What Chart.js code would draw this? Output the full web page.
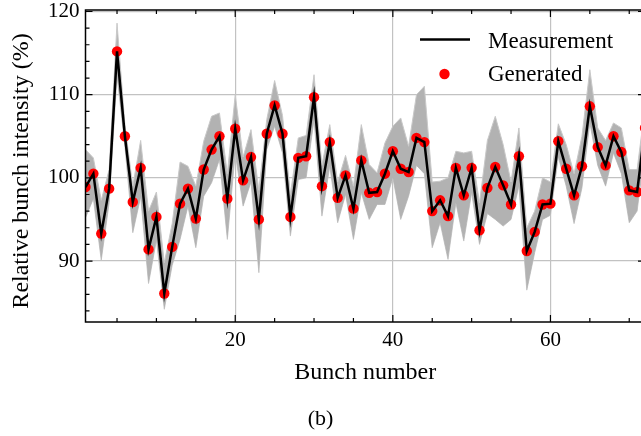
<!DOCTYPE html>
<html>
<head>
<meta charset="utf-8">
<script src="https://cdn.jsdelivr.net/npm/chart.js@4.4.1/dist/chart.umd.min.js"></script>
<style>
  html, body { margin: 0; padding: 0; background: #fff; overflow: hidden; }
  canvas { display: block; }
</style>
</head>
<body>
<canvas id="chart" width="660" height="436"></canvas>
<script>
// bunch index (x)
const bunches = [1, 2, 3, 4, 5, 6, 7, 8, 9, 10, 11, 12, 13, 14, 15, 16, 17, 18, 19, 20,
  21, 22, 23, 24, 25, 26, 27, 28, 29, 30, 31, 32, 33, 34, 35, 36, 37, 38, 39, 40,
  41, 42, 43, 44, 45, 46, 47, 48, 49, 50, 51, 52, 53, 54, 55, 56, 57, 58, 59, 60,
  61, 62, 63, 64, 65, 66, 67, 68, 69, 70, 71, 72];

// relative bunch intensity (%)
const measurement = [98.9, 100.5, 93.3, 98.7, 115.2, 105.0, 97.1, 101.2, 91.4, 95.3,
  86.1, 91.7, 96.9, 98.7, 95.1, 101.0, 103.4, 105.0, 97.5, 105.9,
  99.7, 102.5, 95.0, 105.3, 108.7, 105.3, 95.3, 102.4, 102.6, 109.7,
  99.0, 104.3, 97.6, 100.3, 96.3, 102.1, 98.2, 98.3, 100.5, 103.2,
  101.1, 100.7, 104.8, 104.3, 96.0, 97.3, 95.4, 101.2, 97.9, 101.2,
  93.7, 98.8, 101.3, 99.1, 96.8, 102.6, 91.2, 93.5, 96.8, 96.9,
  104.4, 101.1, 97.9, 101.4, 108.6, 103.7, 101.5, 105.0, 103.1, 98.5,
  98.3, 106.0];

const generated = [98.9, 100.5, 93.3, 98.7, 115.2, 105.0, 97.1, 101.2, 91.4, 95.3,
  86.1, 91.7, 96.9, 98.7, 95.1, 101.0, 103.4, 105.0, 97.5, 105.9,
  99.7, 102.5, 95.0, 105.3, 108.7, 105.3, 95.3, 102.4, 102.6, 109.7,
  99.0, 104.3, 97.6, 100.3, 96.3, 102.1, 98.2, 98.3, 100.5, 103.2,
  101.1, 100.7, 104.8, 104.3, 96.0, 97.3, 95.4, 101.2, 97.9, 101.2,
  93.7, 98.8, 101.3, 99.1, 96.8, 102.6, 91.2, 93.5, 96.8, 96.9,
  104.4, 101.1, 97.9, 101.4, 108.6, 103.7, 101.5, 105.0, 103.1, 98.5,
  98.3, 106.0];

// spread of the generated samples (grey band)
const bandUpper = [103.4, 102.4, 97.3, 101.0, 118.6, 106.4, 99.0, 104.5, 96.0, 98.3,
  89.8, 94.5, 101.9, 101.4, 99.0, 104.4, 107.4, 107.8, 100.5, 110.0,
  102.5, 105.8, 98.5, 107.0, 111.7, 107.5, 98.0, 104.8, 105.1, 112.4,
  101.5, 106.4, 99.5, 102.7, 99.0, 106.4, 101.6, 100.6, 104.2, 106.2,
  107.2, 103.8, 110.0, 111.0, 99.5, 99.6, 100.0, 103.2, 103.0, 103.2,
  97.0, 104.5, 107.4, 104.0, 99.5, 106.0, 94.0, 96.0, 100.0, 99.5,
  106.5, 104.0, 100.5, 105.0, 113.0, 106.0, 104.5, 106.6, 106.0, 101.0,
  101.0, 108.5];

const bandLower = [95.2, 97.5, 90.1, 97.0, 112.3, 103.8, 93.4, 97.7, 87.3, 92.5,
  84.2, 89.5, 92.6, 96.6, 91.6, 97.8, 99.4, 102.2, 92.6, 103.0,
  96.6, 99.5, 88.6, 103.4, 106.2, 103.0, 93.0, 99.8, 100.0, 107.0,
  95.4, 101.4, 94.6, 98.0, 92.6, 98.2, 95.0, 96.8, 96.8, 100.0,
  95.0, 97.8, 101.5, 100.5, 91.6, 94.6, 90.2, 97.0, 92.4, 98.2,
  92.0, 95.7, 95.0, 94.2, 95.0, 99.0, 86.5, 91.0, 95.0, 95.5,
  102.5, 99.0, 94.5, 98.8, 106.6, 101.5, 99.0, 103.0, 100.5, 94.6,
  96.0, 103.5];

// ticks
const xTicks = [20, 40, 60];
const xMinorTicks = [5, 10, 15, 25, 30, 35, 45, 50, 55, 65, 70];
const yTicks = [90, 100, 110, 120];
const yMinorTicks = [84, 86, 88, 92, 94, 96, 98, 102, 104, 106, 108, 112, 114, 116, 118];

const FONT = '"Liberation Serif", "DejaVu Serif", serif';
const GRID = '#c2c2c2';

function toXY(values) {
    return values.map((v, i) => ({ x: bunches[i], y: v }));
}

// spines, inward ticks, legend and titles
const decor = {
    id: 'decor',
    afterDraw(chart) {
        const ctx = chart.ctx;
        const a = chart.chartArea;
        const xs = chart.scales.x;
        const ys = chart.scales.y;
        ctx.save();
        ctx.strokeStyle = '#000';
        ctx.lineWidth = 1.5;
        ctx.strokeRect(a.left, a.top, a.right - a.left, a.bottom - a.top);

        ctx.lineWidth = 1.2;
        ctx.beginPath();
        xTicks.forEach(v => {
            const px = xs.getPixelForValue(v);
            ctx.moveTo(px, a.bottom); ctx.lineTo(px, a.bottom - 7);
            ctx.moveTo(px, a.top); ctx.lineTo(px, a.top + 7);
        });
        xMinorTicks.forEach(v => {
            const px = xs.getPixelForValue(v);
            ctx.moveTo(px, a.bottom); ctx.lineTo(px, a.bottom - 4);
            ctx.moveTo(px, a.top); ctx.lineTo(px, a.top + 4);
        });
        yTicks.forEach(v => {
            const py = ys.getPixelForValue(v);
            ctx.moveTo(a.left, py); ctx.lineTo(a.left + 7, py);
            ctx.moveTo(a.right, py); ctx.lineTo(a.right - 7, py);
        });
        yMinorTicks.forEach(v => {
            const py = ys.getPixelForValue(v);
            ctx.moveTo(a.left, py); ctx.lineTo(a.left + 4, py);
            ctx.moveTo(a.right, py); ctx.lineTo(a.right - 4, py);
        });
        ctx.stroke();

        // legend
        ctx.strokeStyle = '#000';
        ctx.lineWidth = 2.5;
        ctx.beginPath();
        ctx.moveTo(420, 39.5); ctx.lineTo(470, 39.5);
        ctx.stroke();
        ctx.fillStyle = '#ff0000';
        ctx.beginPath();
        ctx.arc(444.5, 74, 5.2, 0, Math.PI * 2);
        ctx.fill();

        ctx.fillStyle = '#000';
        ctx.textBaseline = 'alphabetic';
        ctx.textAlign = 'left';
        ctx.font = '23px ' + FONT;
        ctx.fillText('Measurement', 488, 48);
        ctx.fillText('Generated', 488, 81);

        // axis titles
        ctx.textAlign = 'center';
        ctx.font = '24px ' + FONT;
        ctx.fillText('Bunch number', (a.left + a.right) / 2, 379);
        ctx.save();
        ctx.translate(28, 171);
        ctx.rotate(-Math.PI / 2);
        ctx.fillText('Relative bunch intensity (%)', 0, 0);
        ctx.restore();

        // panel label
        ctx.font = '22px ' + FONT;
        ctx.fillText('(b)', 320.5, 425);
        ctx.restore();
    }
};

new Chart(document.getElementById('chart'), {
    type: 'line',
    data: {
        datasets: [{
            label: 'Measurement',
            data: toXY(measurement),
            borderColor: '#000000',
            borderWidth: 2.5,
            pointRadius: 0,
            tension: 0,
            fill: false,
            order: 0,
        }, {
            label: 'Generated',
            data: toXY(generated),
            showLine: false,
            pointRadius: 5.2,
            pointBackgroundColor: '#ff0000',
            pointBorderWidth: 0,
            order: 1,
        }, {
            label: 'upper',
            data: toXY(bandUpper),
            borderColor: '#c9c9c9',
            borderWidth: 1,
            pointRadius: 0,
            tension: 0,
            fill: '+1',
            backgroundColor: '#b2b2b2',
            order: 2,
        }, {
            label: 'lower',
            data: toXY(bandLower),
            borderColor: '#c9c9c9',
            borderWidth: 1,
            pointRadius: 0,
            tension: 0,
            fill: false,
            order: 3,
        }]
    },
    options: {
        responsive: false,
        animation: false,
        devicePixelRatio: 1,
        layout: { padding: { top: 10, right: 15, left: 0, bottom: 0 } },
        plugins: {
            legend: { display: false },
            tooltip: { enabled: false },
            title: { display: false },
        },
        scales: {
            x: {
                type: 'linear',
                min: 1,
                max: 72,
                afterBuildTicks: s => { s.ticks = xTicks.map(v => ({ value: v })); },
                afterFit: s => { s.height = 114; s.paddingLeft = 0; s.paddingRight = 0; },
                grid: { color: GRID, lineWidth: 1.2, drawTicks: false },
                border: { display: false },
                ticks: {
                    font: { family: FONT, size: 21 },
                    color: '#000',
                    padding: 6,
                    maxRotation: 0,
                    autoSkip: false,
                },
            },
            y: {
                min: 82.67,
                max: 120.18,
                afterBuildTicks: s => { s.ticks = yTicks.map(v => ({ value: v })); },
                afterFit: s => { s.width = 85.5; s.paddingTop = 0; s.paddingBottom = 0; },
                grid: { color: GRID, lineWidth: 1.2, drawTicks: false },
                border: { display: false },
                ticks: {
                    font: { family: FONT, size: 21 },
                    color: '#000',
                    padding: 6,
                    autoSkip: false,
                },
            },
        },
    },
    plugins: [decor],
});
</script>
</body>
</html>
